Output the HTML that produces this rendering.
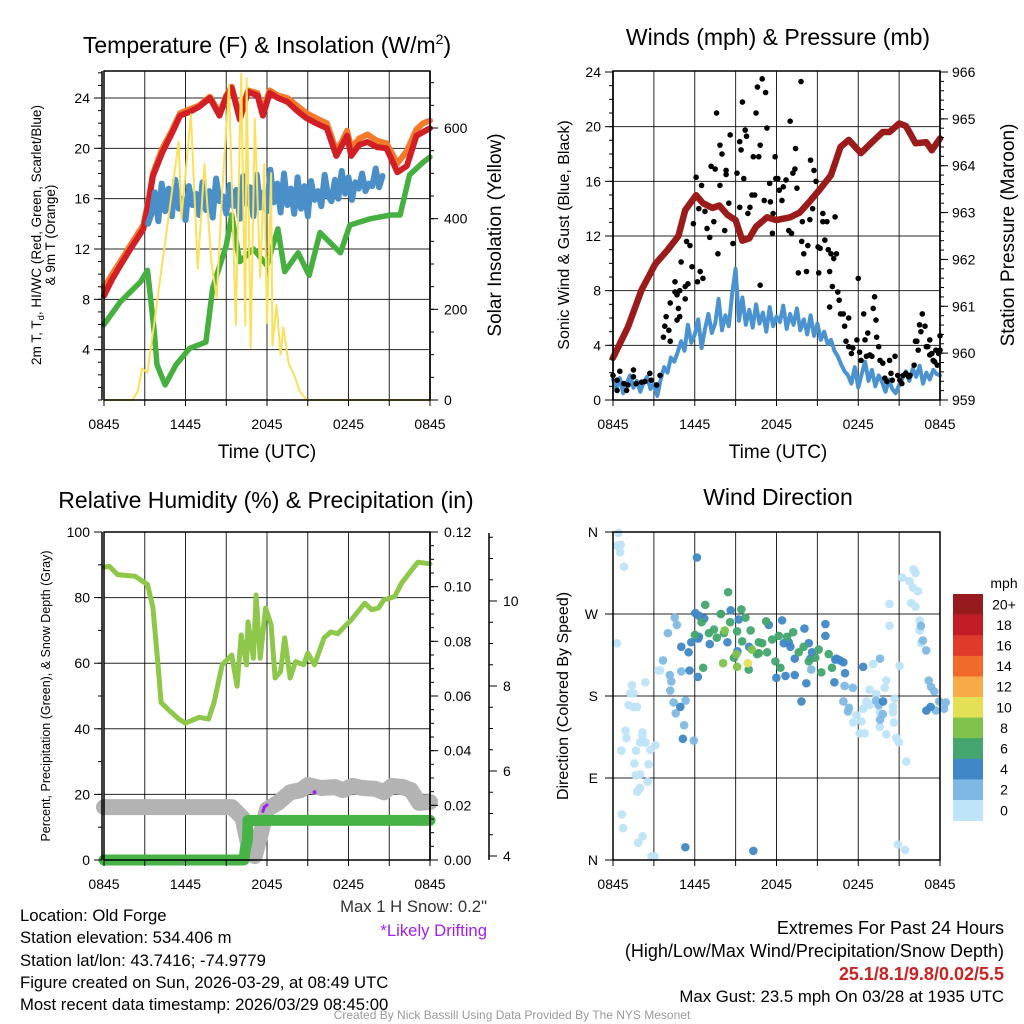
<!DOCTYPE html>
<html><head><meta charset="utf-8">
<style>
html,body{margin:0;padding:0;background:#fff;}
svg{display:block;font-family:"Liberation Sans",sans-serif;}
</style></head>
<body>
<svg id="chart" width="1024" height="1024" viewBox="0 0 1024 1024" xmlns="http://www.w3.org/2000/svg">
<rect width="1024" height="1024" fill="#fff"/>
<g id="layer"></g>
<!-- Titles -->
<text x="267" y="53" font-size="23" text-anchor="middle">Temperature (F) &amp; Insolation (W/m<tspan dy="-9" font-size="14">2</tspan><tspan dy="9">)</tspan></text>
<text x="778" y="45" font-size="23" text-anchor="middle">Winds (mph) &amp; Pressure (mb)</text>
<text x="266" y="508" font-size="23" text-anchor="middle">Relative Humidity (%) &amp; Precipitation (in)</text>
<text x="778" y="505" font-size="23" text-anchor="middle">Wind Direction</text>
<!-- axis titles -->
<text x="267" y="458" font-size="19" text-anchor="middle">Time (UTC)</text>
<text x="778" y="458" font-size="19" text-anchor="middle">Time (UTC)</text>
<text transform="translate(41,235) rotate(-90)" font-size="13.5" text-anchor="middle">2m T, T<tspan font-size="9.5" dy="3">d</tspan><tspan dy="-3">, HI/WC (Red, Green, Scarlet/Blue)</tspan></text>
<text transform="translate(55,235) rotate(-90)" font-size="13.5" text-anchor="middle">&amp; 9m T (Orange)</text>
<text transform="translate(501,235) rotate(-90)" font-size="19" text-anchor="middle">Solar Insolation (Yellow)</text>
<text transform="translate(569,235) rotate(-90)" font-size="16" text-anchor="middle">Sonic Wind &amp; Gust (Blue, Black)</text>
<text transform="translate(1014,235) rotate(-90)" font-size="19" text-anchor="middle">Station Pressure (Maroon)</text>
<text transform="translate(50,696) rotate(-90)" font-size="12.5" text-anchor="middle">Percent, Precipitation (Green), &amp; Snow Depth (Gray)</text>
<text transform="translate(568,696) rotate(-90)" font-size="16" text-anchor="middle">Direction (Colored By Speed)</text>
<!-- footer texts -->
<text x="487" y="912" font-size="16.7" fill="#333" text-anchor="end">Max 1 H Snow: 0.2"</text>
<text x="487" y="936" font-size="16.7" fill="#a020f0" text-anchor="end">*Likely Drifting</text>
<g font-size="16.7" fill="#000">
<text x="20" y="921">Location: Old Forge</text>
<text x="20" y="943">Station elevation: 534.406 m</text>
<text x="20" y="966">Station lat/lon: 43.7416; -74.9779</text>
<text x="20" y="988">Figure created on Sun, 2026-03-29, at 08:49 UTC</text>
<text x="20" y="1010">Most recent data timestamp: 2026/03/29 08:45:00</text>
</g>
<g font-size="18" text-anchor="end">
<text x="1004" y="934">Extremes For Past 24 Hours</text>
<text x="1004" y="957">(High/Low/Max Wind/Precipitation/Snow Depth)</text>
<text x="1004" y="980" fill="#cc2222" font-weight="bold">25.1/8.1/9.8/0.02/5.5</text>
<text x="1004" y="1002" font-size="16.8">Max Gust: 23.5 mph On 03/28 at 1935 UTC</text>
</g>
<text x="512" y="1019" font-size="12" fill="#999" text-anchor="middle">Created By Nick Bassill Using Data Provided By The NYS Mesonet</text>
</svg>
<script>
// ---------------- DATA ----------------
const timeTickLabels = ["0845","1445","2045","0245","0845"];
const tempTicks = [4,8,12,16,20,24];
const insolTicks = [0,200,400,600];
const windTicks = [0,4,8,12,16,20,24];
const pressTicks = [959,960,961,962,963,964,965,966];
const rhTicks = [0,20,40,60,80,100];
const precipTicks = ["0.00","0.02","0.04","0.06","0.08","0.10","0.12"];
const snowTicks = [4,6,8,10];
const dirTicks = ["N","E","S","W","N"];
const speedBins = ["0","2","4","6","8","10","12","14","16","18","20+"];
const speedColors = ["#bde4f8","#7fb9e3","#3f87c6","#45a56e","#7fc24c","#e3e056","#f8aa48","#f06a2b","#e03a2b","#c21d26","#961a1e"];

const tempT = [0,0.6,1.2,2.0,2.9,3.3,3.6,4.3,5.0,5.6,6.3,7.0,7.8,8.5,9.0,9.4,10.0,10.6,11.3,11.7,12.2,12.8,13.5,14.2,14.9,15.6,16.4,17.1,17.5,17.9,18.2,18.8,19.4,20.1,20.8,21.6,22.3,23.0,23.5,24];
const tempV = [8.3,9.6,10.7,12.1,13.6,15.8,17.8,19.7,21.2,22.6,22.9,23.3,24.0,22.6,24.1,24.8,22.3,24.5,24.2,22.6,24.4,24.0,23.7,23.0,22.4,22.0,21.6,19.4,20.2,21.0,19.4,20.3,20.5,20.1,20.0,18.1,18.6,21.0,21.3,21.6];
const temp9T = [0,0.6,1.2,2.0,2.9,3.3,3.6,4.3,5.0,5.6,6.3,7.0,7.8,8.5,9.0,9.4,10.0,10.6,11.3,11.7,12.2,12.8,13.5,14.2,14.9,15.6,16.4,17.1,17.5,17.9,18.2,18.8,19.4,20.1,20.8,21.6,22.3,23.0,23.5,24];
const temp9V = [8.9,10.0,11.0,12.4,13.9,16.0,18.0,20.0,21.4,22.8,23.1,23.4,24.1,22.8,24.2,24.9,22.5,24.6,24.4,23.0,24.6,24.2,24.0,23.4,22.8,22.4,22.0,19.8,20.5,21.4,20.0,20.8,21.1,20.6,20.4,18.8,19.8,21.5,22.0,22.2];
const dewT = [0,1.2,2.7,3.2,3.7,3.9,4.5,5.3,6.3,7.5,8.0,9.0,9.4,10.0,11.0,12.0,12.8,13.3,14.3,15.1,15.9,17.4,18.1,19.6,21.1,21.8,22.5,23.5,24];
const dewV = [6.0,7.8,9.4,10.3,5.4,2.8,1.2,2.8,4.1,4.6,8.9,12.3,14.7,11.0,12.0,10.7,13.6,10.2,11.7,9.9,13.3,11.7,13.9,14.4,14.7,14.7,17.9,18.9,19.3];
const chillStart = 3.25;
const chillV = [14.0,14.8,16.5,14.2,17.2,15.0,16.8,14.6,17.5,15.2,16.0,14.3,17.0,15.5,16.4,14.7,
17.3,15.1,16.6,14.5,17.6,15.8,16.2,14.8,17.1,15.4,16.7,14.4,17.8,15.6,
16.9,14.6,17.9,15.3,16.5,15.0,18.3,15.7,17.2,14.9,18.0,15.5,16.8,14.8,
17.7,15.2,17.0,14.6,17.4,15.9,16.6,15.4,17.9,16.2,15.8,17.5,16.0,18.2,
16.4,17.7,15.9,17.3,16.8,18.0,16.6,17.2,17.0,18.4,16.9,17.8];
const insolT = [0,2.1,2.5,2.8,3.2,5.5,5.7,6.4,6.9,7.4,7.9,8.3,8.7,9.2,9.7,10.1,10.4,10.5,10.8,11.1,11.5,11.8,12.0,12.3,12.4,12.7,13.0,13.2,13.6,14.0,14.4,14.9,24];
const insolV = [0,0,20,70,60,570,400,630,290,520,305,225,460,695,165,720,165,710,115,620,270,520,170,500,120,210,100,160,80,55,20,0,0];

const windStart = 0, windStep = 0.25;
const windV = [1.5,0.8,1.6,0.5,1.2,1.8,0.9,1.4,0.6,1.3,1.7,0.8,1.2,
0.3,1.5,2.4,2.0,3.1,2.8,3.5,
4.3,3.6,5.5,4.2,4.8,5.9,3.8,5.2,6.3,4.9,5.6,7.4,5.1,6.2,5.4,7.8,
9.6,5.8,7.5,5.5,6.6,5.3,7.0,5.6,6.4,5.0,6.8,5.4,6.1,5.7,6.9,5.2,6.3,5.5,6.7,5.1,
5.9,4.8,6.2,4.7,5.6,4.4,5.0,4.1,4.4,3.6,3.2,2.6,2.1,1.8,
1.2,2.4,0.9,1.9,2.8,1.4,2.2,1.0,1.8,1.3,0.6,1.5,0.8,0.5,1.1,1.6,2.1,1.4,2.3,1.7,2.5,1.2,2.0,1.5,2.2,1.9,1.8];
const gustT = [0.0,0.5,0.3,0.8,1.1,1.5,1.5,1.7,2.1,2.35,2.7,2.8,3.2,3.45,0.3,1.0,3.7,3.8,3.9,4.2,4.1,4.55,4.2,4.55,4.7,4.9,4.7,4.9,4.8,5.3,5.0,5.3,5.5,5.8,5.4,5.65,6.1,6.2,6.5,6.4,6.6,5.9,6.3,6.75,6.9,7.1,7.4,7.2,7.6,7.5,7.85,7.7,7.85,8.0,8.2,8.3,8.3,8.5,8.6,8.8,9.1,9.3,9.3,9.4,9.5,9.6,9.7,9.8,9.9,10.05,10.2,10.3,10.4,10.5,10.6,10.7,10.8,10.8,10.95,11.1,11.2,11.3,11.5,11.55,11.7,11.75,11.9,11.95,12.1,12.2,12.4,12.5,12.7,12.9,13.0,13.1,13.2,13.35,13.4,13.5,13.6,13.8,13.85,13.9,14.0,14.2,14.3,14.45,14.5,14.65,14.75,14.9,15.05,15.1,15.2,15.4,15.4,15.55,15.7,15.8,15.9,16.0,16.2,16.3,16.4,16.1,16.5,16.6,16.7,15.9,16.9,17.0,17.1,17.3,17.3,17.5,17.6,17.9,18.0,18.1,18.2,18.4,18.5,18.6,18.7,18.85,19.0,19.1,19.2,19.3,19.35,19.5,19.6,19.8,19.95,20.1,20.3,20.4,20.5,20.7,20.9,21.05,21.2,21.3,21.5,21.7,21.8,22.1,22.2,22.3,22.5,22.6,22.7,22.9,23.0,23.1,23.25,23.4,23.5,23.6,23.8,23.9,24.0,24.0,23.7,23.25,22.4];
const gustV = [1.8,2.1,1.45,1.2,1.1,2.2,1.7,1.2,1.3,1.35,1.95,1.45,1.1,1.8,0.7,0.7,4.6,5.4,6.1,4.3,5.1,8.65,7.1,7.9,7.7,8.0,5.85,6.1,6.7,7.4,10.1,8.3,8.5,9.75,11.6,11.3,16.3,8.65,15.7,9.4,8.9,12.9,14.0,13.8,12.55,11.9,13.05,17.1,21.0,16.9,15.7,10.7,18.65,18.0,12.4,16.8,16.5,14.4,19.4,11.45,16.6,14.1,18.9,18.3,21.8,16.2,19.75,19.3,13.65,14.1,15.0,17.8,15.0,21.0,22.9,17.8,18.65,8.4,23.5,14.6,22.5,19.9,15.85,14.5,12.2,13.65,17.8,16.2,16.2,15.35,14.6,15.6,16.1,12.4,20.4,12.2,16.6,16.9,18.4,15.5,9.3,23.3,11.6,13.05,10.7,9.4,11.3,13.2,17.55,14.0,16.8,16.0,11.2,9.3,11.1,13.05,13.65,11.7,13.05,11.0,9.4,10.7,10.35,13.4,10.7,8.3,7.9,7.3,6.3,6.8,6.3,5.4,4.3,6.0,3.9,3.4,3.8,4.4,8.9,3.5,2.9,6.3,4.4,3.2,4.9,3.3,3.2,6.7,7.55,5.85,4.6,3.9,2.9,2.7,1.6,1.35,2.9,1.95,1.45,3.2,1.8,1.45,1.2,1.8,1.95,1.7,1.8,2.55,4.3,4.3,5.5,5.0,6.3,5.4,3.9,3.9,4.4,3.4,2.9,2.8,2.55,3.4,3.65,4.7,3.65,3.3,3.65];
const pressT = [0,1.1,2.1,3.1,4.0,4.8,5.3,6.1,6.6,7.3,7.8,8.4,9.0,9.5,10.0,10.5,11.3,12.0,13.0,13.7,14.5,15.2,16.0,16.7,17.3,18.2,19.0,19.8,20.3,21.0,21.5,22.2,23.0,23.4,24];
const pressV = [959.9,960.56,961.35,961.9,962.2,962.5,963.05,963.37,963.2,963.1,963.15,962.95,962.84,962.4,962.45,962.7,962.9,962.84,962.9,963.0,963.26,963.5,963.8,964.4,964.55,964.27,964.5,964.72,964.72,964.9,964.85,964.48,964.5,964.33,964.58];

const rhT = [0,0.4,1.0,2.3,3.2,3.6,4.0,4.2,4.7,5.5,6.0,7.0,7.7,8.1,8.7,9.4,9.8,10.1,10.5,10.6,11.0,11.2,11.5,11.9,12.3,12.6,13.0,13.3,13.7,14.1,14.7,15.0,15.5,16.2,16.7,17.2,18.2,19.2,19.7,20.2,20.6,21.4,21.9,23.1,24];
const rhV = [89.3,89.5,87,86.5,84,77,58.5,48,46,43,41.7,43.5,43,48,59.5,62.5,53,68.6,59.5,72.6,61.5,80.8,61.5,76.8,71.8,55.5,57.5,67.7,55.5,60.5,59.5,63.1,59.5,67.7,69.5,69,73.2,78.3,76.3,76.8,79.3,80.3,84.4,90.8,90.3];
const snowT = [0,2,4,6,8,9.4,10.2,10.7,11.1,11.6,12.0,12.8,13.7,14.5,15.0,16.0,17.0,17.6,18.3,19.0,20.0,20.6,21.2,22.0,22.6,23.2,24];
const snowV = [5.15,5.15,5.15,5.15,5.15,5.15,4.9,4.15,4.0,4.6,5.1,5.25,5.5,5.55,5.67,5.6,5.62,5.55,5.65,5.6,5.58,5.5,5.65,5.62,5.55,5.25,5.27];
const precipT = [0,10.3,10.4,10.55,10.6,24];
const precipV = [0,0,0.004,0.007,0.0145,0.0145];
const driftT = [11.7,11.8,12.0];
const driftV = [5.05,5.15,5.2];
const driftDotT = [15.5];
const driftDotV = [5.5];

const dirT = [
0.4,0.28,0.57,0.52,0.81,0.28,1.39,1.27,1.51,1.15,1.51,1.76,0.91,0.98,1.98,2.16,2.15,2.38,2.38,3.11,2.75,1.69,0.61,2.61,1.57,1.99,1.67,2.54,1.78,1.98,0.65,0.75,1.85,2.17,3.04,2.83,3.45,3.33,20.3,20.3,21.23,22.06,22.2,21.76,22.01,22.38,21.89,22.2,22.5,22.5,22.62,21.03,19.09,18.83,20.06,19.94,20.67,20.55,19.33,18.6,17.62,18.23,18.11,18.48,19.57,19.57,20.55,20.61,20.06,20.79,20.98,21.52,20.91,21.43,18.83,17.87,18.36,
3.67,4.53,4.69,4.03,4.17,4.28,4.2,5.01,5.33,4.45,5.22,4.6,5.93,17.0,17.31,17.25,17.6,19.6,19.3,19.5,19.8,19.6,22.6,22.74,22.99,23.17,23.34,23.58,23.95,24.42,23.7,24.3,14.55,16.91,
6.16,6.04,6.31,6.7,7.91,8.64,9.23,6.31,7.1,8.4,9.13,9.99,6.25,5.74,5.55,5.01,5.62,6.23,4.94,5.13,5.31,10.3,11.43,12.41,12.53,12.9,13.02,13.34,14.05,14.37,14.61,14.49,15.59,15.59,16.31,16.67,17.03,16.91,16.4,16.25,13.34,13.83,12.66,11.99,14.19,18.36,19.82,23.0,23.31,
8.45,9.42,6.77,7.92,8.6,10.1,7.04,7.41,8.14,10.7,10.95,11.31,11.68,12.78,13.22,13.63,13.99,14.37,14.85,15.29,15.1,15.83,16.07,12.17,11.24,11.92,12.29,10.7,10.58,9.48,9.11,9.72,6.5,6.01,7.62,6.62,8.88,9.96,
8.2,8.08,9.06,10.19,9.11,
9.9];
const dirDeg = [
359,345,346,338,322,238,192,183,183,170,168,168,142,134,129,140,137,195,129,126,121,120,120,105,106,94,93,86,75,79,50,35,19,26,4,4,208,208,281,257,310,319,315,306,299,295,282,278,263,252,238,213,215,187,197,189,177,168,182,174,151,152,139,139,162,146,162,151,138,134,129,108,17,11,170,159,166,
219,266,258,249,203,196,186,207,175,173,148,161,131,191,167,163,189,221,175,170,160,154,257,241,230,197,190,185,174,173,164,166,209,174,
332,271,268,265,270,274,264,245,237,239,229,234,243,239,228,234,208,201,168,133,14,10,258,263,238,239,234,221,254,238,228,221,259,246,220,219,205,217,221,195,203,174,202,200,194,212,174,164,168,
294,275,280,270,261,252,249,253,249,239,238,228,242,245,250,228,234,218,222,206,231,226,211,246,262,218,211,227,226,240,251,266,261,247,244,211,222,209,
252,216,226,231,212,
216];
const dirSpd = [
1,1,1,1,1,1,1,1,1,1,1,1,1,1,1,1,1,1,1,1,1,1,1,1,1,1,1,1,1,1,1,1,1,1,1,1,1,1,1,1,1,1,1,1,1,1,1,1,1,1,1,1,1,1,1,1,1,1,1,1,1,1,1,1,1,1,1,1,1,1,1,1,1,1,1,1,1,
3,3,3,3,3,3,3,3,3,3,3,3,3,3,3,3,3,3,3,3,3,3,3,3,3,3,3,3,3,3,3,3,3,3,
5,5,5,5,5,5,5,5,5,5,5,5,5,5,5,5,5,5,5,5,5,5,5,5,5,5,5,5,5,5,5,5,5,5,5,5,5,5,5,5,5,5,5,5,5,5,5,5,5,
7,7,7,7,7,7,7,7,7,7,7,7,7,7,7,7,7,7,7,7,7,7,7,7,7,7,7,7,7,7,7,7,7,7,7,7,7,7,
9,9,9,9,9,
11];

// ---------------- HELPERS ----------------
const NS = "http://www.w3.org/2000/svg";
const layer = document.getElementById("layer");
function mk(tag, attrs, parent){ const e=document.createElementNS(NS,tag); for(const k in attrs) e.setAttribute(k,attrs[k]); (parent||layer).appendChild(e); return e; }
function lin(d0,d1,r0,r1){ return v => r0 + (v-d0)*(r1-r0)/(d1-d0); }

const P = {
  tl:{x0:104,x1:430,y0:71,y1:400},
  tr:{x0:613,x1:940,y0:71,y1:400},
  bl:{x0:104,x1:430,y0:532,y1:860},
  br:{x0:613,x1:940,y0:532,y1:860}
};
const xTL = lin(0,24,P.tl.x0,P.tl.x1), xTR = lin(0,24,P.tr.x0,P.tr.x1);
const xBL = lin(0,24,P.bl.x0,P.bl.x1), xBR = lin(0,24,P.br.x0,P.br.x1);
const yTemp = lin(0,24,400,98);
const yInsol = lin(0,600,400,128);
const yWind = lin(0,24,400,72);
const yPress = lin(959,966,400,72);
const yRH = lin(0,100,860,532);
const yPrecip = lin(0,0.12,860,532);
const ySnow = lin(4,10,856,601);
const yDir = lin(0,360,860,532);

function frame(p, name, hVals, yf){
  const g = mk("g",{});
  
  
  for(let h=3;h<24;h+=3){ const x=p.x0+(p.x1-p.x0)*h/24; mk("line",{x1:x,x2:x,y1:p.y0,y2:p.y1,stroke:"#000","stroke-width":1,"stroke-opacity":0.85},g); }
  hVals.forEach(v=>{ const y=yf(v); if(y>p.y0+1 && y<p.y1-1) mk("line",{x1:p.x0,x2:p.x1,y1:y,y2:y,stroke:"#000","stroke-width":1,"stroke-opacity":0.85},g); });
}
function border(p,name){
  const r = mk("rect",{x:p.x0,y:p.y0,width:p.x1-p.x0,height:p.y1-p.y0,fill:"none",stroke:"#000","stroke-width":1.5});
  
  
}
function xAxis(p, xf, name){
  const g = mk("g",{});
  
  
  for(let h=0;h<=24;h+=3){ const x=xf(h); mk("line",{x1:x,x2:x,y1:p.y1,y2:p.y1+6,stroke:"#000","stroke-width":1},g); }
  timeTickLabels.forEach((lab,i)=>{
    const t = mk("text",{x:xf(i*6),y:p.y1+29,"font-size":14,"text-anchor":"middle"},g);
    t.textContent = lab;
    
    
  });
}
function yAxis(x, yTop, yBot, yf, majors, labels, minorStep, minorFrom, minorTo, side, name, labelOffset){
  const g = mk("g",{});
  
  
  mk("line",{x1:x,x2:x,y1:yTop,y2:yBot,stroke:"#000","stroke-width":1.5},g);
  const dir = side==="left"?-1:1;
  for(let v=minorFrom; v<=minorTo+1e-9; v+=minorStep){ const y=yf(v); if(y>=yTop-0.5&&y<=yBot+0.5) mk("line",{x1:x,x2:x+dir*4,y1:y,y2:y,stroke:"#000","stroke-width":1},g); }
  majors.forEach((v,i)=>{
    const y=yf(v);
    mk("line",{x1:x,x2:x+dir*8,y1:y,y2:y,stroke:"#000","stroke-width":1},g);
    const t = mk("text",{x:x+dir*(labelOffset||12),y:y+5,"font-size":14,"text-anchor":side==="left"?"end":"start"},g);
    t.textContent = labels[i];
    
    
  });
}
function pathFrom(ts, vs, xf, yf){ return ts.map((t,i)=>(i?"L":"M")+xf(t).toFixed(1)+","+yf(vs[i]).toFixed(1)).join(""); }
function seriesLine(d, color, w, name, cap){
  const e = mk("path",{d:d,fill:"none",stroke:color,"stroke-width":w,"stroke-linejoin":"round","stroke-linecap":cap||"round"});
  
  
  return e;
}

// ---------------- PANEL 1: Temperature ----------------
frame(P.tl,"temperature",tempTicks,yTemp);
seriesLine(pathFrom(temp9T,temp9V,xTL,yTemp),"#f47a2a",6,"temp-9m-line");
seriesLine(pathFrom(tempT,tempV,xTL,yTemp),"#d21f26",6,"temp-2m-line");
const chillT = chillV.map((v,i)=>chillStart+i*0.25);
seriesLine(pathFrom(chillT,chillV,xTL,yTemp),"#4a8fc8",6,"wind-chill-line");
seriesLine(pathFrom(dewT,dewV,xTL,yTemp),"#45b040",5.5,"dewpoint-line");
seriesLine(pathFrom(insolT,insolV,xTL,yInsol),"#fbe05a",2,"insolation-line");
border(P.tl,"temperature");
xAxis(P.tl,xTL,"temperature");
yAxis(102,71,400,yTemp,tempTicks,tempTicks.map(String),1,0,26,"left","temp-y-axis",12);
yAxis(430,71,400,yInsol,insolTicks,insolTicks.map(String),50,0,700,"right","insolation-y-axis",14);

// ---------------- PANEL 2: Winds ----------------
frame(P.tr,"winds",windTicks,yWind);
const windT = windV.map((v,i)=>windStart+i*windStep);
seriesLine(pathFrom(windT,windV,xTR,yWind),"#4a93d0",4,"sustained-wind-line");
gustT.forEach((t,i)=>{
  const c = mk("circle",{cx:xTR(t),cy:yWind(gustV[i]),r:2.8,fill:"#000"});
  
  
});
seriesLine(pathFrom(pressT,pressV,xTR,yPress),"#9b1a1a",6.5,"pressure-line");
border(P.tr,"winds");
xAxis(P.tr,xTR,"winds");
yAxis(613,71,400,yWind,windTicks,windTicks.map(String),1,0,24,"left","wind-y-axis",12);
yAxis(940,71,400,yPress,pressTicks,pressTicks.map(String),0.2,959,966,"right","pressure-y-axis",12);

// ---------------- PANEL 3: Humidity ----------------
frame(P.bl,"humidity",rhTicks,yRH);
seriesLine(pathFrom(rhT,rhV,xBL,yRH),"#8dc84a",5,"humidity-line");
seriesLine(pathFrom(snowT,snowV,xBL,ySnow),"#b3b3b3",16,"snow-depth-line");
seriesLine(pathFrom(driftT,driftV,xBL,ySnow),"#a020f0",3,"drifting-marker");
driftDotT.forEach((t,i)=>{
  const c = mk("circle",{cx:xBL(t),cy:ySnow(driftDotV[i]),r:2,fill:"#a020f0"});
  
  
});
seriesLine(pathFrom(precipT,precipV,xBL,yPrecip),"#47b347",11,"precipitation-line");
border(P.bl,"humidity");
xAxis(P.bl,xBL,"humidity");
yAxis(102,532,860,yRH,rhTicks,rhTicks.map(String),10,0,100,"left","humidity-y-axis",12);
yAxis(430,532,860,yPrecip,precipTicks.map(Number),precipTicks,0.005,0,0.12,"right","precipitation-y-axis",14);
yAxis(489,533,860,ySnow,snowTicks,snowTicks.map(String),0.5,4,11.6,"right","snow-depth-y-axis",14);

// ---------------- PANEL 4: Direction ----------------
frame(P.br,"direction",[0,90,180,270,360],yDir);
dirT.forEach((t,i)=>{
  const bin = Math.min(10,Math.floor(dirSpd[i]/2));
  const c = mk("circle",{cx:xBR(t),cy:yDir(dirDeg[i]),r:4.3,fill:speedColors[bin],"fill-opacity":0.95});
  
  
});
border(P.br,"direction");
xAxis(P.br,xBR,"direction");
(function(){
  const g = mk("g",{});
  
  
  dirTicks.forEach((lab,i)=>{
    const y=yDir(i*90);
    mk("line",{x1:613,x2:605,y1:y,y2:y,stroke:"#000","stroke-width":1},g);
    const t=mk("text",{x:598,y:y+5,"font-size":14,"text-anchor":"end"},g);
    t.textContent=lab;
    
    
  });
})();
// colorbar
(function(){
  const g = mk("g",{});
  
  
  const top=594, h=20.6;
  const u = mk("text",{x:1004,y:588,"font-size":14,"text-anchor":"middle"},g);
  u.textContent="mph";
  
  
  for(let i=0;i<speedBins.length;i++){
    const k = speedBins.length-1-i;
    const r = mk("rect",{x:953,y:top+i*h,width:30,height:h+0.3,fill:speedColors[k]},g);
    
    
    const t = mk("text",{x:1004,y:top+i*h+h/2+5,"font-size":14,"text-anchor":"middle"},g);
    t.textContent = speedBins[k];
    
    
  }
})();
</script>
</body></html>
